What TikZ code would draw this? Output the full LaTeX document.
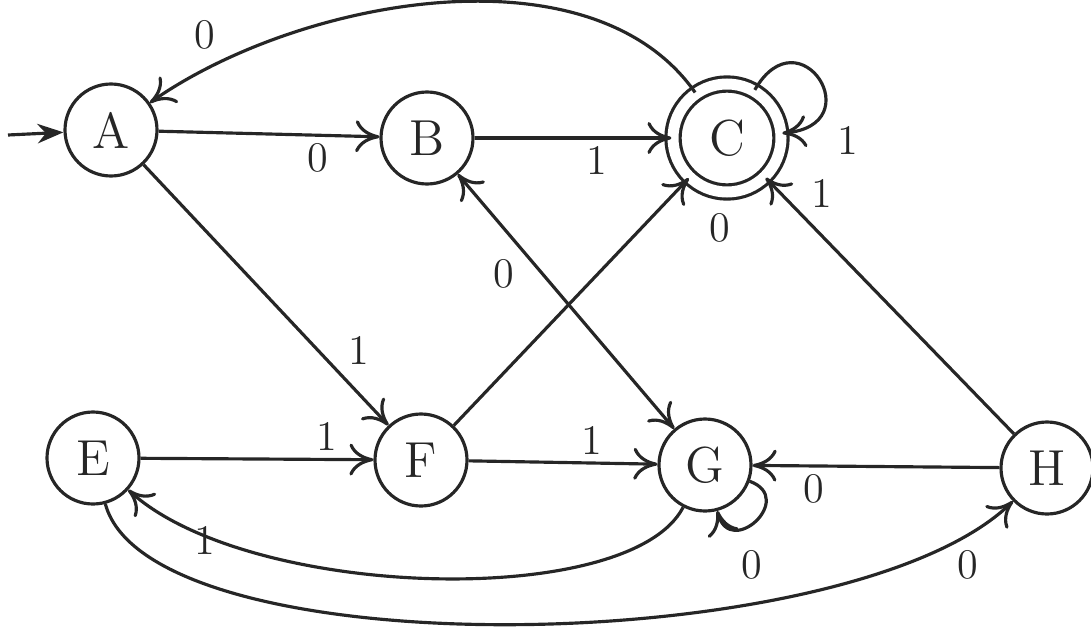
\documentclass[tikz,border=0pt]{standalone}
\usetikzlibrary{arrows.meta}
\begin{document}
\begin{tikzpicture}[>={To[length=2.4mm,width=3.2mm]}, line width=0.9pt, color=black!85,
    st/.style = {shape = circle, draw, minimum size = 9.2mm, inner sep = 0pt, font = \Large},
    acc/.style = {st, double, double distance = 1.1mm, minimum size = 10.8mm},
    lbl/.style = {font = \large, inner sep = 2pt}]
    \useasboundingbox (0,0) rectangle (10.91,6.40);
    % states
    \node[st] (A) at (1.11,5.10) {A};
    \node[st] (B) at (4.27,5.02) {B};
    \node[acc] (C) at (7.27,5.02) {C};
    \node[st] (E) at (0.93,1.82) {E};
    \node[st] (F) at (4.21,1.80) {F};
    \node[st] (G) at (7.05,1.75) {G};
    \node[st] (H) at (10.47,1.72) {H};
    \coordinate (start) at (0.08,5.05);
    % transitions
    \draw[-{Stealth[length=2.6mm]}] (start) -- (A);
    \draw[->] (A) -- node[lbl, below, pos=0.72] (lab) {0} (B);
    \draw[->] (B) -- node[lbl, below, pos=0.62] (lbc) {1} (C);
    \draw[->] (C) to[out=125, in=35, looseness=0.85] (A);
    \draw[->] (C) to[out=60, in=5, min distance=9mm] (C);
    \draw[->] (A) -- node[lbl, above right, pos=0.8] (laf) {1} (F);
    \draw[<->] (B) -- node[lbl, below left, pos=0.3] (lbg) {0} (G);
    \draw[->] (F) -- (C);
    \draw[->] (H) -- node[lbl, above right, pos=0.85] (lhc) {1} (C);
    \draw[->] (E) -- node[lbl, above, pos=0.8] (lef) {1} (F);
    \draw[->] (F) -- node[lbl, above, pos=0.65] (lfg) {1} (G);
    \draw[->] (H) -- node[lbl, below, pos=0.75] (lhg) {0} (G);
    \draw[->] (G) to[out=-20, in=-75, min distance=5mm] (G);
    \draw[->] (G) .. controls (6.3,0.3) and (2.5,0.4) .. (E);
    \draw[->] (E) .. controls (1.5,-0.3) and (8.5,-0.2) .. (H);
    % labels placed by hand
    \node[lbl] (lca) at (2.05,6.05) {0};
    \node[lbl] (lcc) at (8.48,5.00) {1};
    \node[lbl] (lfc) at (7.20,4.12) {0};
    \node[lbl] (lgg) at (7.52,0.75) {0};
    \node[lbl] (lge) at (2.05,1.00) {1};
    \node[lbl] (leh) at (9.68,0.75) {0};
\end{tikzpicture}
\end{document}
